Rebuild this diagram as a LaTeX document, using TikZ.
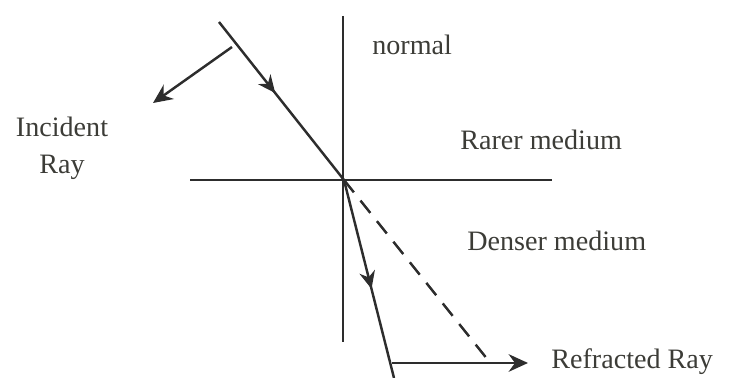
\documentclass[tikz,border=0pt]{standalone}
\usepackage{fontspec}
\setmainfont{Liberation Serif}
\usetikzlibrary{arrows.meta,decorations.markings}
\definecolor{rayGray}{RGB}{45,45,45}
\definecolor{txtGray}{RGB}{60,60,55}

\begin{document}
\begin{tikzpicture}[x=0.02cm,y=-0.02cm,
    ray/.style={draw=rayGray,line width=1.4pt},
    midarrow/.style={postaction={decorate},decoration={markings,
        mark=at position #1 with {\arrow{Stealth[length=10pt,width=9pt]}}}},
    lbl/.style={font=\fontsize{16}{19}\selectfont,text=txtGray,inner sep=0pt}]
        \useasboundingbox (0,0) rectangle (735,378);

        % Pontos
        \coordinate (O) at (344,180);
        \coordinate (inc) at (219,22);
        \coordinate (ref) at (394,378);
        \coordinate (ext) at (488,360);
        \coordinate (ntop) at (343,16);
        \coordinate (nbot) at (343,342);
        \coordinate (sl) at (190,180);
        \coordinate (sr) at (552,180);

        % Normal e superficie
        \draw[ray] (ntop) -- (nbot);
        \draw[ray] (sl) -- (sr);

        % Raios
        \draw[ray,midarrow=0.45] (inc) -- (O);
        \draw[ray,midarrow=0.55] (O) -- (ref);
        \draw[ray,dash pattern=on 9pt off 6pt] (O) -- (ext);

        % Textos
        \node[lbl,anchor=west] (nrm) at (372,45){normal};
        \node[lbl,anchor=west] (rar) at (460,140){Rarer medium};
        \node[lbl,anchor=west] (den) at (467,241){Denser medium};
        \node[lbl,align=center] (incl) at (62,148){Incident\\[2pt]Ray};
        \node[lbl,anchor=west] (refl) at (551,362){Refracted Ray};

        % Setas das legendas
        \coordinate (ia) at (232,47);
        \coordinate (ib) at (153,103);
        \coordinate (ra) at (392,363);
        \coordinate (rb) at (528,363);
        \draw[ray,-{Stealth[length=11pt,width=10pt]}] (ia) -- (ib);
        \draw[ray,-{Stealth[length=11pt,width=10pt]}] (ra) -- (rb);
      \end{tikzpicture}
\end{document}
